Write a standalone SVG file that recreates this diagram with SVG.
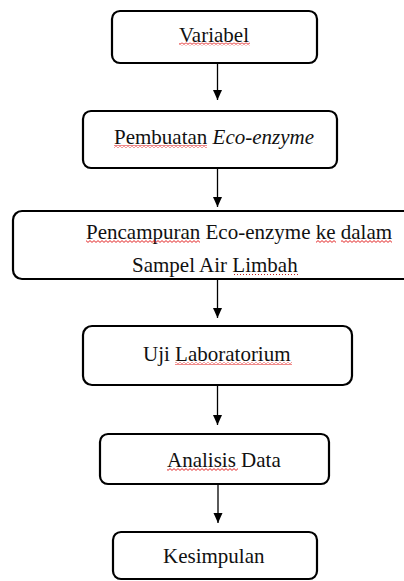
<svg xmlns="http://www.w3.org/2000/svg" width="404" height="581" viewBox="0 0 404 581">
  <style>
    .box { fill: #ffffff; stroke: #000000; stroke-width: 2.2; }
    .lbl { font-family: "Liberation Serif", "Times New Roman", serif; font-size: 21px; fill: #111111; }
    .conn { stroke: #000000; stroke-width: 1.3; fill: none; }
    .sq { stroke: none; fill: url(#wave); }
    .dot { stroke: #c02020; stroke-width: 1.2; stroke-dasharray: 1 2; }
  </style>
  <defs>
    <marker id="arrow" markerUnits="userSpaceOnUse" markerWidth="10" markerHeight="10" refX="10" refY="4.5" orient="auto">
      <polygon points="0,0 10,4.5 0,9" fill="#000000"/>
    </marker>
    <pattern id="wave" patternUnits="userSpaceOnUse" width="4" height="3">
      <path d="M0,2.4 L2,0.6 L4,2.4" fill="none" stroke="#e01010" stroke-width="0.9"/>
    </pattern>
    <clipPath id="clip1">
      <rect x="110" y="40" width="210" height="11"/>
    </clipPath>
  </defs>
  <rect width="404" height="581" fill="#ffffff"/>

  <g id="connectors">
    <line class="conn" x1="217.5" y1="63" x2="217.5" y2="100" marker-end="url(#arrow)"/>
    <line class="conn" x1="217.5" y1="168" x2="217.5" y2="207" marker-end="url(#arrow)"/>
    <line class="conn" x1="217.5" y1="279" x2="217.5" y2="318" marker-end="url(#arrow)"/>
    <line class="conn" x1="217.5" y1="385" x2="217.5" y2="425" marker-end="url(#arrow)"/>
    <line class="conn" x1="218" y1="484" x2="218" y2="523" marker-end="url(#arrow)"/>
  </g>

  <g id="node-variabel">
    <rect class="box" x="112" y="11" width="205" height="52" rx="8"/>
    <text class="lbl" x="179" y="42">Variabel</text>
    <text class="lbl" x="127" y="65" clip-path="url(#clip1)">Penelitian</text>
    <rect class="sq" x="179" y="42.5" width="71" height="3"/>
  </g>

  <g id="node-pembuatan">
    <rect class="box" x="83" y="111" width="254" height="57" rx="8"/>
    <text class="lbl" x="114" y="144">Pembuatan <tspan font-style="italic">Eco-enzyme</tspan></text>
    <rect class="sq" x="114" y="145" width="93" height="3"/>
  </g>

  <g id="node-pencampuran">
    <rect class="box" x="13" y="211" width="420" height="68" rx="9"/>
    <text class="lbl" x="86" y="239">Pencampuran Eco-enzyme ke dalam</text>
    <text class="lbl" x="132" y="272">Sampel Air Limbah</text>
    <rect class="sq" x="86" y="240" width="114" height="3"/>
    <rect class="sq" x="316" y="240" width="20" height="3"/>
    <rect class="sq" x="341" y="240" width="51" height="3"/>
    <line class="dot" x1="234" y1="274.5" x2="299" y2="274.5"/>
  </g>

  <g id="node-uji">
    <rect class="box" x="83" y="326" width="269" height="59" rx="9"/>
    <text class="lbl" x="143" y="361">Uji Laboratorium</text>
    <rect class="sq" x="175" y="362" width="117" height="3"/>
  </g>

  <g id="node-analisis">
    <rect class="box" x="100" y="434" width="229" height="50" rx="8"/>
    <text class="lbl" x="167" y="467">Analisis Data</text>
    <rect class="sq" x="167" y="468" width="71" height="3"/>
  </g>

  <g id="node-kesimpulan">
    <rect class="box" x="113" y="532" width="204" height="47" rx="8"/>
    <text class="lbl" x="163" y="563">Kesimpulan</text>
  </g>
</svg>
